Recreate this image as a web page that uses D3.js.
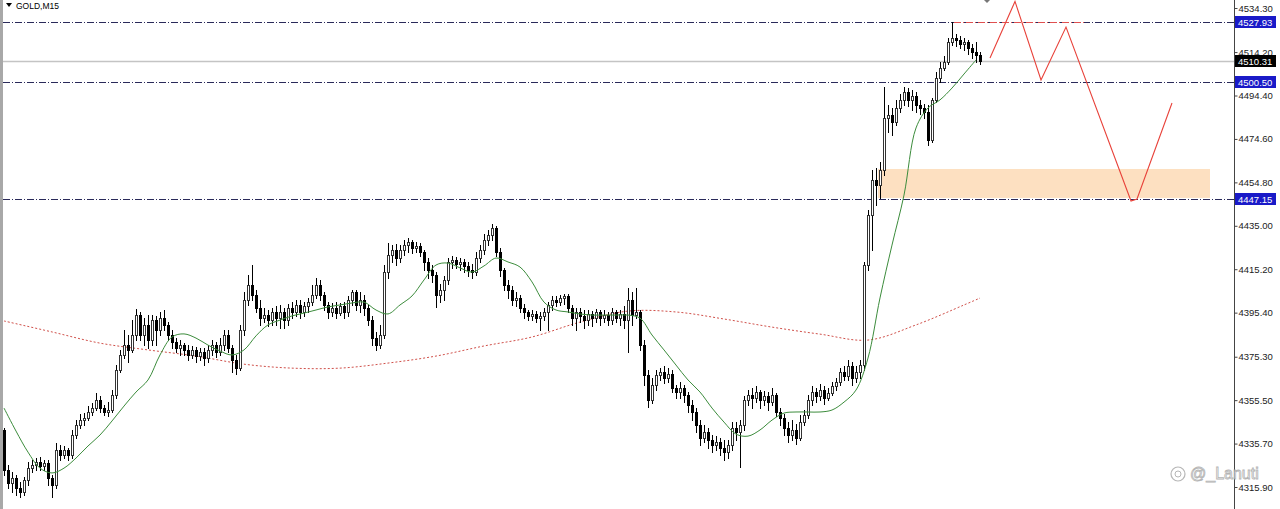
<!DOCTYPE html>
<html><head><meta charset="utf-8">
<script src="https://cdn.jsdelivr.net/npm/d3@7/dist/d3.min.js"></script>
<style>html,body{margin:0;padding:0;background:#fff;}svg{display:block;}</style>
</head><body>
<svg id="c" width="1280" height="509"></svg>
<script>
// ---- data (GOLD, M15 candles) ----
const opens = [
4341.9,4323.6,4317.7,4320.0,4315.4,4313.6,4319.1,4324.5,4325.9,4327.3,
4325.5,4326.8,4320.0,4316.8,4332.8,4330.5,4332.8,4330.5,4339.6,4344.2,
4346.4,4347.4,4350.1,4351.9,4355.6,4351.9,4350.1,4351.0,4357.8,4369.2,
4376.1,4380.6,4378.4,4385.2,4394.3,4385.2,4389.8,4382.9,4392.0,4387.4,
4392.9,4389.8,4385.2,4382.0,4379.3,4380.6,4378.4,4376.1,4378.4,4375.6,
4377.4,4374.7,4378.4,4380.6,4377.4,4380.6,4385.2,4379.3,4373.8,4370.2,
4387.4,4401.2,4408.0,4403.4,4397.5,4392.9,4394.3,4392.0,4395.7,4392.9,
4395.7,4392.0,4397.5,4395.7,4398.9,4395.7,4398.4,4400.2,4403.4,4408.0,
4403.4,4398.9,4395.7,4397.5,4395.2,4398.4,4395.7,4401.2,4404.8,4398.9,
4401.2,4397.5,4392.0,4383.8,4380.6,4385.2,4413.9,4421.7,4424.0,4420.3,
4424.0,4426.2,4427.6,4424.9,4425.8,4423.0,4418.5,4414.8,4412.6,4403.4,
4405.7,4410.3,4418.5,4419.4,4417.6,4418.5,4416.7,4414.8,4413.9,4420.3,
4424.0,4428.5,4430.8,4434.0,4423.0,4414.8,4408.0,4405.7,4401.2,4402.1,
4397.5,4395.7,4393.9,4394.8,4392.9,4393.9,4395.7,4398.9,4401.2,4400.2,
4402.1,4403.0,4397.5,4392.9,4395.7,4393.9,4392.0,4394.8,4392.9,4395.7,
4392.9,4394.3,4392.0,4395.7,4392.9,4394.8,4392.0,4401.2,4394.3,4395.7,
4380.6,4367.0,4355.6,4362.4,4367.0,4368.3,4365.6,4367.4,4361.0,4359.2,
4361.0,4357.8,4353.3,4350.1,4344.2,4338.2,4341.0,4337.3,4335.0,4336.4,
4333.7,4331.8,4335.0,4342.8,4341.0,4344.2,4355.6,4357.8,4356.5,4359.2,
4355.6,4357.4,4354.6,4357.8,4350.1,4347.4,4342.8,4339.6,4341.9,4338.2,
4345.5,4348.7,4355.6,4359.2,4357.4,4360.1,4356.5,4358.7,4361.9,4363.8,
4368.3,4366.5,4371.1,4365.6,4368.3,4371.5,4417.1,4439.9,4455.9,4453.6,
4460.4,4484.1,4485.5,4482.3,4488.7,4492.4,4496.0,4492.4,4494.2,4490.1,
4488.7,4486.9,4474.1,4492.4,4502.4,4506.9,4509.7,4518.8,4520.6,4519.7,
4517.9,4518.8,4516.1,4514.2,4512.9];
const highs = [
4342.8,4325.9,4322.7,4321.4,4318.2,4320.4,4327.3,4328.2,4329.1,4329.6,
4328.2,4328.2,4321.4,4335.9,4335.0,4334.6,4333.7,4341.9,4346.4,4349.2,
4349.6,4352.8,4354.2,4358.7,4357.4,4353.3,4354.6,4360.1,4371.5,4378.4,
4387.4,4385.2,4392.0,4397.1,4395.7,4392.9,4394.3,4394.3,4393.9,4395.7,
4396.6,4391.1,4387.4,4383.8,4382.9,4381.5,4380.6,4380.2,4379.7,4379.3,
4379.3,4380.6,4382.9,4382.0,4383.8,4387.4,4387.4,4380.6,4376.1,4389.8,
4404.8,4412.6,4417.1,4405.7,4401.2,4397.5,4396.6,4397.5,4398.4,4398.9,
4397.5,4399.3,4400.2,4401.2,4401.2,4400.2,4402.1,4408.0,4411.2,4410.3,
4404.8,4400.2,4399.8,4400.2,4399.8,4400.2,4403.0,4405.7,4405.7,4404.8,
4403.4,4398.9,4393.9,4386.6,4389.8,4417.1,4427.2,4426.2,4426.7,4426.2,
4428.5,4429.4,4428.5,4427.6,4427.2,4424.0,4420.3,4417.1,4413.9,4408.5,
4412.1,4420.3,4421.2,4420.8,4420.3,4419.9,4418.5,4417.6,4423.0,4426.2,
4431.3,4433.1,4435.8,4434.9,4424.9,4415.8,4410.3,4407.5,4404.8,4403.4,
4399.3,4396.6,4396.6,4396.1,4395.7,4397.5,4400.2,4403.0,4403.0,4403.4,
4403.9,4403.9,4398.9,4397.5,4397.5,4396.6,4396.6,4396.1,4397.1,4396.6,
4396.6,4395.7,4397.5,4396.6,4396.6,4398.4,4406.6,4404.8,4406.6,4396.6,
4382.9,4369.2,4365.6,4369.2,4370.2,4371.1,4370.2,4369.2,4362.4,4363.8,
4362.4,4359.2,4355.6,4351.9,4346.4,4344.2,4342.8,4339.6,4339.1,4338.2,
4337.3,4337.3,4345.5,4345.5,4346.4,4357.4,4360.1,4361.0,4361.9,4360.1,
4359.7,4359.2,4361.0,4358.7,4351.9,4349.2,4345.5,4346.4,4344.6,4348.7,
4351.0,4357.8,4361.9,4361.0,4362.8,4361.9,4361.0,4363.8,4365.6,4370.2,
4371.1,4373.8,4372.9,4371.1,4373.8,4418.5,4442.2,4460.4,4461.3,4464.1,
4498.3,4490.1,4488.7,4492.4,4495.1,4498.3,4497.8,4496.9,4496.0,4492.4,
4490.5,4490.1,4493.3,4505.1,4509.7,4512.4,4520.6,4527.93,4522.4,4521.5,
4520.6,4519.7,4517.9,4518.8,4514.2];
const lows = [
4321.4,4315.4,4313.6,4312.2,4311.3,4312.2,4316.8,4322.7,4323.6,4323.6,
4323.6,4316.8,4311.3,4315.4,4328.2,4329.1,4328.2,4329.1,4338.2,4342.8,
4344.2,4346.4,4348.7,4351.0,4350.1,4348.7,4348.3,4350.1,4356.5,4368.3,
4374.7,4372.9,4377.4,4382.9,4382.9,4380.6,4379.3,4380.6,4380.6,4385.2,
4387.4,4382.9,4379.3,4377.4,4376.1,4376.1,4373.8,4374.7,4372.9,4373.8,
4371.5,4372.9,4376.1,4375.2,4376.1,4378.4,4377.4,4368.3,4367.4,4369.2,
4385.2,4398.9,4401.2,4395.7,4389.8,4391.1,4389.3,4389.8,4389.8,4388.4,
4388.4,4389.8,4392.9,4393.9,4392.9,4393.9,4395.7,4398.9,4402.1,4401.2,
4396.6,4392.9,4393.9,4392.9,4394.3,4392.9,4393.9,4398.9,4396.6,4395.7,
4394.3,4389.8,4380.6,4378.4,4379.3,4383.8,4411.2,4418.5,4417.1,4418.5,
4421.7,4423.0,4422.6,4423.0,4421.2,4414.8,4411.2,4409.4,4398.0,4400.2,
4401.2,4408.5,4415.8,4415.8,4414.8,4413.9,4412.1,4411.2,4412.6,4418.5,
4422.1,4426.2,4428.5,4421.2,4412.1,4405.7,4402.1,4398.9,4398.4,4395.7,
4392.9,4392.0,4392.0,4391.1,4387.4,4392.0,4387.4,4396.6,4398.4,4398.9,
4399.3,4395.7,4389.8,4387.4,4391.1,4388.4,4389.8,4389.3,4391.1,4389.8,
4391.1,4389.8,4390.2,4391.1,4389.8,4388.4,4377.4,4389.8,4392.9,4378.4,
4362.4,4352.4,4354.2,4360.1,4364.7,4363.3,4363.8,4359.2,4356.5,4356.5,
4354.6,4350.1,4346.4,4341.0,4335.0,4336.4,4333.7,4331.8,4332.8,4330.5,
4328.2,4329.1,4332.8,4337.3,4325.0,4341.9,4353.3,4351.9,4354.6,4351.9,
4353.3,4351.0,4353.3,4348.3,4344.2,4339.6,4336.4,4337.3,4335.5,4337.3,
4344.2,4347.4,4353.3,4354.6,4355.6,4353.7,4355.6,4357.8,4360.1,4362.4,
4364.7,4364.7,4362.4,4363.8,4365.6,4369.2,4414.8,4424.0,4444.5,4447.7,
4458.2,4477.8,4476.4,4480.9,4486.9,4490.1,4489.6,4487.8,4486.9,4486.0,
4484.1,4471.8,4473.2,4491.5,4500.6,4506.0,4508.8,4517.4,4517.0,4516.1,
4515.2,4513.3,4511.5,4509.7,4508.8];
const closes = [
4323.6,4317.7,4320.0,4315.4,4313.6,4319.1,4324.5,4325.9,4327.3,4325.5,
4326.8,4320.0,4316.8,4332.8,4330.5,4332.8,4330.5,4339.6,4344.2,4346.4,
4347.4,4350.1,4351.9,4355.6,4351.9,4350.1,4351.0,4357.8,4369.2,4376.1,
4380.6,4378.4,4385.2,4394.3,4385.2,4389.8,4382.9,4392.0,4387.4,4392.9,
4389.8,4385.2,4382.0,4379.3,4380.6,4378.4,4376.1,4378.4,4375.6,4377.4,
4374.7,4378.4,4380.6,4377.4,4380.6,4385.2,4379.3,4373.8,4370.2,4387.4,
4401.2,4408.0,4403.4,4397.5,4392.9,4394.3,4392.0,4395.7,4392.9,4395.7,
4392.0,4397.5,4395.7,4398.9,4395.7,4398.4,4400.2,4403.4,4408.0,4403.4,
4398.9,4395.7,4397.5,4395.2,4398.4,4395.7,4401.2,4404.8,4398.9,4401.2,
4397.5,4392.0,4383.8,4380.6,4385.2,4413.9,4421.7,4424.0,4420.3,4424.0,
4426.2,4427.6,4424.9,4425.8,4423.0,4418.5,4414.8,4412.6,4403.4,4405.7,
4410.3,4418.5,4419.4,4417.6,4418.5,4416.7,4414.8,4413.9,4420.3,4424.0,
4428.5,4430.8,4434.0,4423.0,4414.8,4408.0,4405.7,4401.2,4402.1,4397.5,
4395.7,4393.9,4394.8,4392.9,4393.9,4395.7,4398.9,4401.2,4400.2,4402.1,
4403.0,4397.5,4392.9,4395.7,4393.9,4392.0,4394.8,4392.9,4395.7,4392.9,
4394.3,4392.0,4395.7,4392.9,4394.8,4392.0,4401.2,4394.3,4395.7,4380.6,
4367.0,4355.6,4362.4,4367.0,4368.3,4365.6,4367.4,4361.0,4359.2,4361.0,
4357.8,4353.3,4350.1,4344.2,4338.2,4341.0,4337.3,4335.0,4336.4,4333.7,
4331.8,4335.0,4342.8,4341.0,4344.2,4355.6,4357.8,4356.5,4359.2,4355.6,
4357.4,4354.6,4357.8,4350.1,4347.4,4342.8,4339.6,4341.9,4338.2,4345.5,
4348.7,4355.6,4359.2,4357.4,4360.1,4356.5,4358.7,4361.9,4363.8,4368.3,
4366.5,4371.1,4365.6,4368.3,4371.5,4417.1,4439.9,4455.9,4453.6,4460.4,
4484.1,4485.5,4482.3,4488.7,4492.4,4496.0,4492.4,4494.2,4490.1,4488.7,
4486.9,4474.1,4492.4,4502.4,4506.9,4509.7,4518.8,4520.6,4519.7,4517.9,
4518.8,4516.1,4514.2,4512.9,4510.31];

// fast moving average (green), one reading every 3 bars starting at bar 0
const maFastStep = 3;
const maFast = [
4351.9,4341.4,4331.8,4324.5,4322.3,4324.5,4329.1,4334.6,4339.6,4346.0,
4352.8,4359.2,4364.7,4376.1,4384.3,4385.7,4383.8,4380.6,4377.9,4376.1,
4378.4,4384.8,4389.8,4392.0,4393.9,4395.2,4396.6,4398.0,4398.9,4399.8,
4400.2,4396.6,4394.8,4398.9,4403.0,4410.3,4417.1,4418.0,4415.8,4413.9,
4416.7,4420.3,4418.5,4416.2,4409.4,4400.2,4396.6,4395.7,4394.8,4394.3,
4394.3,4394.3,4394.3,4392.9,4385.2,4378.4,4371.5,4364.7,4359.2,4351.9,
4345.5,4340.0,4339.1,4341.9,4346.4,4349.6,4350.1,4350.1,4350.1,4351.0,
4354.6,4360.1,4374.7,4402.1,4426.2,4449.0,4479.6,4488.7,4492.4,4497.8,
4504.2,4510.6];
// slow moving average (red dotted): [bar, price]
const maSlow = [
[0,4391.6],[12,4386.6],[24,4381.5],[36,4378.4],[48,4375.6],[60,4371.9],
[72,4370.1],[84,4370.1],[96,4372.4],[108,4375.6],[120,4380.2],[132,4384.3],
[144,4391.1],[156,4396.1],[168,4395.7],[180,4392.5],[192,4388.8],[204,4385.6],
[216,4382.9],[228,4389.8],[240,4398.9],[244,4402.05]];

// price axis
const tickValues = [4534.30,4514.20,4494.40,4474.60,4454.80,4435.00,4415.20,4395.40,4375.30,4355.50,4335.70,4315.90];
// horizontal levels
const levelLines = [4527.93, 4500.50, 4447.15];
const bidPrice = 4510.31;
// drawn objects: demand zone [fromBar, toBar, top, bottom]
const zone = [218.5, 301.5, 4460.9, 4447.7];
// projected path [bar, price]
const projection = [[246.5,4511.5],[252.75,4537.3],[259.25,4501.5],[265.5,4525.6],[281.75,4446.3],[283.25,4447.2],[292,4491.0]];
const resistSeg = [237.5, 270, 4527.93];

// ---- drawing ----
const svg = d3.select('#c');
const AXX = 1234;
const x = d3.scaleLinear().domain([0,244]).range([4,980]);
const y = d3.scaleLinear().domain([4315.9,4534.3]).range([487,8]);

svg.append('rect').attr('width',1280).attr('height',509).attr('fill','#fff');

// zone
svg.append('rect')
  .attr('x', x(zone[0])).attr('width', x(zone[1]) - x(zone[0]))
  .attr('y', y(zone[2])).attr('height', y(zone[3]) - y(zone[2]))
  .attr('fill', '#fde0c1');

// bid line
svg.append('line').attr('x1',3).attr('x2',AXX).attr('y1',Math.round(y(bidPrice))+0.5).attr('y2',Math.round(y(bidPrice))+0.5)
  .attr('stroke','#c4c4c4').attr('stroke-width',1.6);

// level lines
svg.selectAll('line.lvl').data(levelLines).enter().append('line')
  .attr('class','lvl').attr('x1',3).attr('x2',AXX)
  .attr('y1',d=>Math.round(y(d))+0.5).attr('y2',d=>Math.round(y(d))+0.5)
  .attr('stroke','#2a2a5a').attr('stroke-width',1).attr('stroke-dasharray','7,2,1,2');

// slow MA
svg.append('path').datum(maSlow)
  .attr('d', d3.line().x(d=>x(d[0])).y(d=>y(d[1])).curve(d3.curveCatmullRom))
  .attr('fill','none').attr('stroke','#d0504a').attr('stroke-width',1).attr('stroke-dasharray','2,2');

// candles
const bars = d3.range(closes.length);
const cg = svg.append('g').attr('shape-rendering','crispEdges');
bars.forEach(i => {
  const cx = Math.round(x(i));
  const o = opens[i], c = closes[i];
  cg.append('line').attr('x1',cx+0.5).attr('x2',cx+0.5)
    .attr('y1',Math.round(y(highs[i]))).attr('y2',Math.round(y(lows[i]))+1)
    .attr('stroke','#000').attr('stroke-width',1);
  const top = Math.round(y(Math.max(o,c))), bot = Math.round(y(Math.min(o,c)));
  const bull = c >= o;
  cg.append('rect').attr('x',cx-1+0.5).attr('width',2)
    .attr('y',top+0.5).attr('height',Math.max(0,bot-top))
    .attr('fill', bull ? '#ffffff' : '#000000')
    .attr('stroke', bull ? '#333' : '#000').attr('stroke-width',1);
});

// fast MA
svg.append('path').datum(maFast)
  .attr('d', d3.line().x((d,k)=>x(k*maFastStep)).y(d=>y(d)).curve(d3.curveCatmullRom))
  .attr('fill','none').attr('stroke','#3c8c3c').attr('stroke-width',1);

// red resistance segment and projection
svg.append('line').attr('x1',x(resistSeg[0])).attr('x2',x(resistSeg[1]))
  .attr('y1',Math.round(y(resistSeg[2]))+0.5).attr('y2',Math.round(y(resistSeg[2]))+0.5)
  .attr('stroke','#e05050').attr('stroke-width',1).attr('stroke-dasharray','7,2,1,2');
svg.append('path').datum(projection)
  .attr('d', d3.line().x(d=>x(d[0])).y(d=>y(d[1])))
  .attr('fill','none').attr('stroke','#e8423a').attr('stroke-width',1.1);

// small marker at top
svg.append('path').attr('d','M983,-1 L987,3 L991,-1 L987,-5 Z').attr('fill','#777');

// axis
svg.append('line').attr('x1',AXX+0.5).attr('x2',AXX+0.5).attr('y1',0).attr('y2',509)
  .attr('stroke','#444').attr('stroke-width',1);
const axis = d3.axisRight(y).tickValues(tickValues).tickFormat(d=>d.toFixed(2)).tickSize(3).tickPadding(1);
const ag = svg.append('g').attr('transform',`translate(${AXX+0.5},0)`).call(axis);
ag.select('.domain').remove();
ag.selectAll('.tick line').attr('stroke','#444');
ag.selectAll('.tick text').attr('font-family','Liberation Sans, Arial, sans-serif')
  .attr('font-size','9.5px').attr('fill','#222');

// price boxes
const boxes = levelLines.map(v=>({v, bg:'#1a1ac8'})).concat([{v:bidPrice, bg:'#000'}]);
const bg = svg.append('g');
boxes.forEach(b=>{
  const cy = Math.round(y(b.v));
  bg.append('rect').attr('x',AXX+1).attr('y',cy-6).attr('width',41).attr('height',12).attr('fill',b.bg);
  bg.append('text').attr('x',AXX+4).attr('y',cy+3.5).text(b.v.toFixed(2))
    .attr('font-family','Liberation Sans, Arial, sans-serif').attr('font-size','9.5px').attr('fill','#fff');
});

// left frame border
svg.append('rect').attr('x',0).attr('y',0).attr('width',3).attr('height',509).attr('fill','#a8a8a8');

// title
svg.append('path').attr('d','M6,3 L12,3 L9,7 Z').attr('fill','#000');
svg.append('text').attr('x',16).attr('y',9).text('GOLD,M15')
  .attr('font-family','Liberation Sans, Arial, sans-serif').attr('font-size','8.5px').attr('fill','#000');

// watermark
const wm = svg.append('g').attr('opacity',0.85);
wm.append('circle').attr('cx',1178).attr('cy',474).attr('r',7).attr('fill','none').attr('stroke','#aaa').attr('stroke-width',1.2);
wm.append('circle').attr('cx',1178).attr('cy',474).attr('r',3).attr('fill','none').attr('stroke','#aaa').attr('stroke-width',1);
wm.append('text').attr('x',1190).attr('y',479).text('@_Lanuti')
  .attr('font-family','Liberation Sans, Arial, sans-serif').attr('font-size','16px')
  .attr('fill','#fafafa').attr('stroke','#a8a8a8').attr('stroke-width',0.8);
</script>
</body></html>
